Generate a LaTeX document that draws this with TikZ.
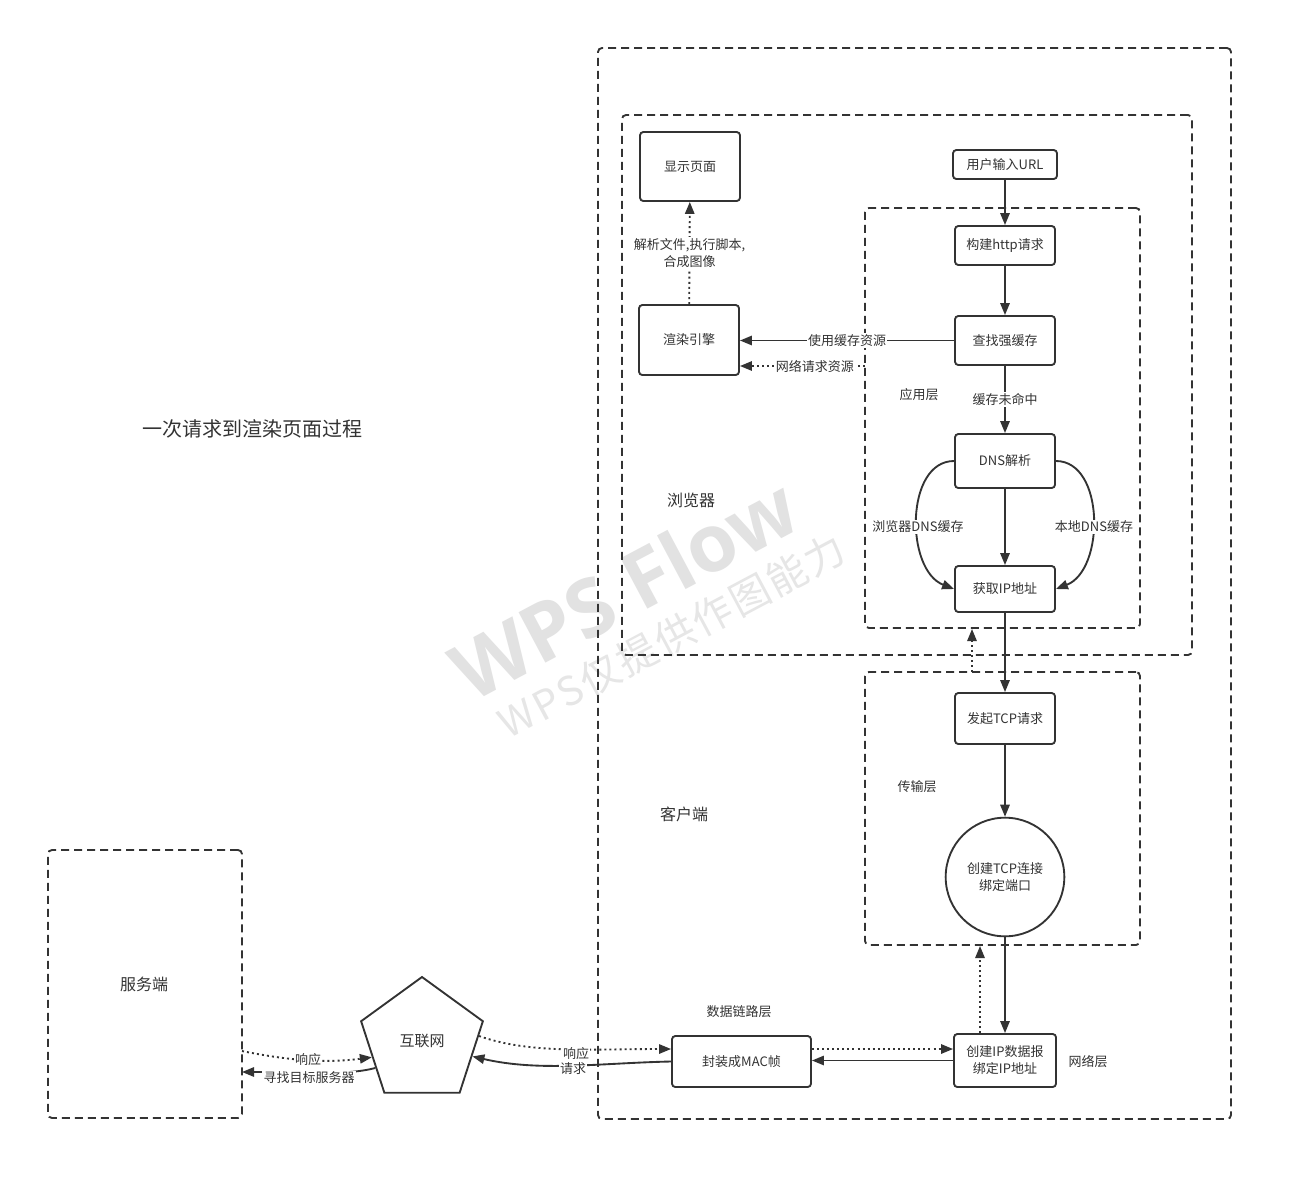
\documentclass[tikz,border=0pt]{standalone}
\usepackage{fontspec}
\setmainfont{Noto Sans CJK SC}
\newfontfamily\wmlatin{Open Sans}
\newfontfamily\wmcjk{Noto Sans CJK SC}[LetterSpace=6]
\usetikzlibrary{arrows.meta,shapes.geometric,fit}
\definecolor{lc}{HTML}{333333}
\definecolor{tc}{HTML}{333333}
\definecolor{wm}{HTML}{E2E2E2}
\newcommand\smalltxt{\fontsize{9.75}{12.75}\selectfont}
\newcommand\areatxt{\fontsize{12}{14}\selectfont}
\newcommand\titletxt{\fontsize{15}{18}\selectfont}

\begin{document}
\begin{tikzpicture}[x=0.75pt,y=-0.75pt,
  box/.style={draw=lc, line width=1.4pt, rounded corners=2.5pt, fill=white,
    align=center, text=tc, font=\smalltxt, inner sep=0pt},
  dashbox/.style={draw=lc, line width=1.4pt, dash pattern=on 6pt off 3.75pt,
    rounded corners=3pt, inner sep=0pt},
  arr/.style={draw=lc, line width=1.4pt, -{Triangle[length=9pt,width=7pt]}},
  darr/.style={arr, dash pattern=on 1.5pt off 2.3pt},
  lbl/.style={fill=white, inner sep=1pt, text=tc, font=\smalltxt, align=center},
  area/.style={text=tc, font=\smalltxt, inner sep=0pt}
]
\useasboundingbox (0,0) rectangle (1293,1182);
\fill[white] (0,0) rectangle (1293,1182);

% faint background stamp
\node[rotate=28, text=wm, font=\wmlatin\bfseries\fontsize{60}{60}\selectfont] (stampA) at (624,588) {WPS Flow};
\node[rotate=28, text=wm!85, font=\wmcjk\fontsize{30}{30}\selectfont] (stampB) at (672,636) {WPS仅提供作图能力};

% grouping frames
\node[dashbox, fit={(598,48) (1231,1119)}] (client) {};
\node[dashbox, fit={(622,115) (1192,655)}] (browser) {};
\node[dashbox, fit={(865,208) (1140,628)}] (applayer) {};
\node[dashbox, fit={(865,672) (1140,945)}] (translayer) {};
\node[dashbox, fit={(48,850) (242,1118)}] (server) {};

% area captions
\node[text=tc, font=\titletxt] (title) at (252,429) {一次请求到渲染页面过程};
\node[text=tc, font=\areatxt] (tbrowser) at (691,500) {浏览器};
\node[text=tc, font=\areatxt] (tclient) at (684,814) {客户端};
\node[text=tc, font=\areatxt] (tserver) at (144,984) {服务端};
\node[area] (tapp) at (919,395) {应用层};
\node[area] (ttrans) at (917,787) {传输层};
\node[area] (tnet) at (1088,1062) {网络层};
\node[area] (tlink) at (739,1012) {数据链路层};

% steps
\node[box, minimum width=75pt, minimum height=51.75pt] (show) at (690,166.5) {显示页面};
\node[box, minimum width=75pt, minimum height=52.5pt] (render) at (689,340) {渲染引擎};
\node[box, minimum width=78pt, minimum height=21.75pt] (url) at (1005,164.5) {用户输入URL};
\node[box, minimum width=75pt, minimum height=29.25pt] (http) at (1005,245.5) {构建http请求};
\node[box, minimum width=75pt, minimum height=36.75pt] (cache) at (1005,340.5) {查找强缓存};
\node[box, minimum width=75pt, minimum height=40.5pt] (dns) at (1005,461) {DNS解析};
\node[box, minimum width=75pt, minimum height=34.5pt] (getip) at (1005,589) {获取IP地址};
\node[box, minimum width=75pt, minimum height=38.25pt] (tcp) at (1005,718.5) {发起TCP请求};
\node[box, circle, minimum size=89pt] (conn) at (1005,877) {创建TCP连接\\绑定端口};
\node[box, minimum width=76.5pt, minimum height=39.75pt] (ipbox) at (1005,1060.5) {创建IP数据报\\绑定IP地址};
\node[box, minimum width=104.25pt, minimum height=38.25pt] (mac) at (741.5,1061.5) {封装成MAC帧};
\node[box, sharp corners, regular polygon, regular polygon sides=5, minimum size=96pt,
  font=\fontsize{11.25}{13}\selectfont] (net) at (422,1041) {互联网};

% free ends on frame borders
\coordinate (appL) at (865,366);
\coordinate (transTop) at (972,672);
\coordinate (appBot) at (972,629);
\coordinate (transBot) at (980,946);
\coordinate (srvA) at (242,1051);
\coordinate (srvB) at (242,1072);

% application layer flow
\draw[arr] (url) -- (http);
\draw[arr] (http) -- (cache);
\draw[arr] (cache) -- (dns) node[lbl, midway] {缓存未命中};
\draw[arr] (dns) -- (getip);
\draw[arr] (dns.west) .. controls (905,461) and (905,570) .. (getip.west);
\draw[arr] (dns.east) .. controls (1105,461) and (1105,570) .. (getip.east);
\node[lbl] at (918,527) {浏览器DNS缓存};
\node[lbl] at (1094,527) {本地DNS缓存};

% browser side
\draw[arr] (cache.west) -- (cache.west -| render.east) node[lbl, midway] {使用缓存资源};
\draw[darr] (appL) -- (appL -| render.east) node[lbl, pos=0.4] {网络请求资源};
\draw[darr] (render) -- (show) node[lbl, midway] {解析文件,执行脚本,\\合成图像};

% transport and network layers
\draw[arr] (getip) -- (tcp);
\draw[darr] (transTop) -- (appBot);
\draw[arr] (tcp) -- (conn);
\draw[arr] (conn) -- (ipbox);
\draw[darr] ([xshift=-18.75pt]ipbox.north) -- (transBot);
\draw[arr] (ipbox.west) -- (ipbox.west -| mac.east);
\draw[darr] ([yshift=9.375pt]mac.east) -- ([yshift=9.375pt]mac.east -| ipbox.west);

% link layer to the internet
\draw[arr] (mac.west) .. controls (600,1063) and (540,1072) .. (net.-17);
\draw[darr] (net.5) .. controls (530,1054) and (590,1049) .. ([yshift=9.375pt]mac.west);
\node[lbl] at (576,1054) {响应};
\node[lbl] at (573,1069) {请求};

% internet to the server
\draw[darr] (srvA) .. controls (300,1063) and (335,1062) .. (net.198);
\draw[arr] (net.210) .. controls (345,1076) and (300,1072) .. (srvB);
\node[lbl] at (308,1060) {响应};
\node[lbl] at (309,1078) {寻找目标服务器};
\end{tikzpicture}
\end{document}
